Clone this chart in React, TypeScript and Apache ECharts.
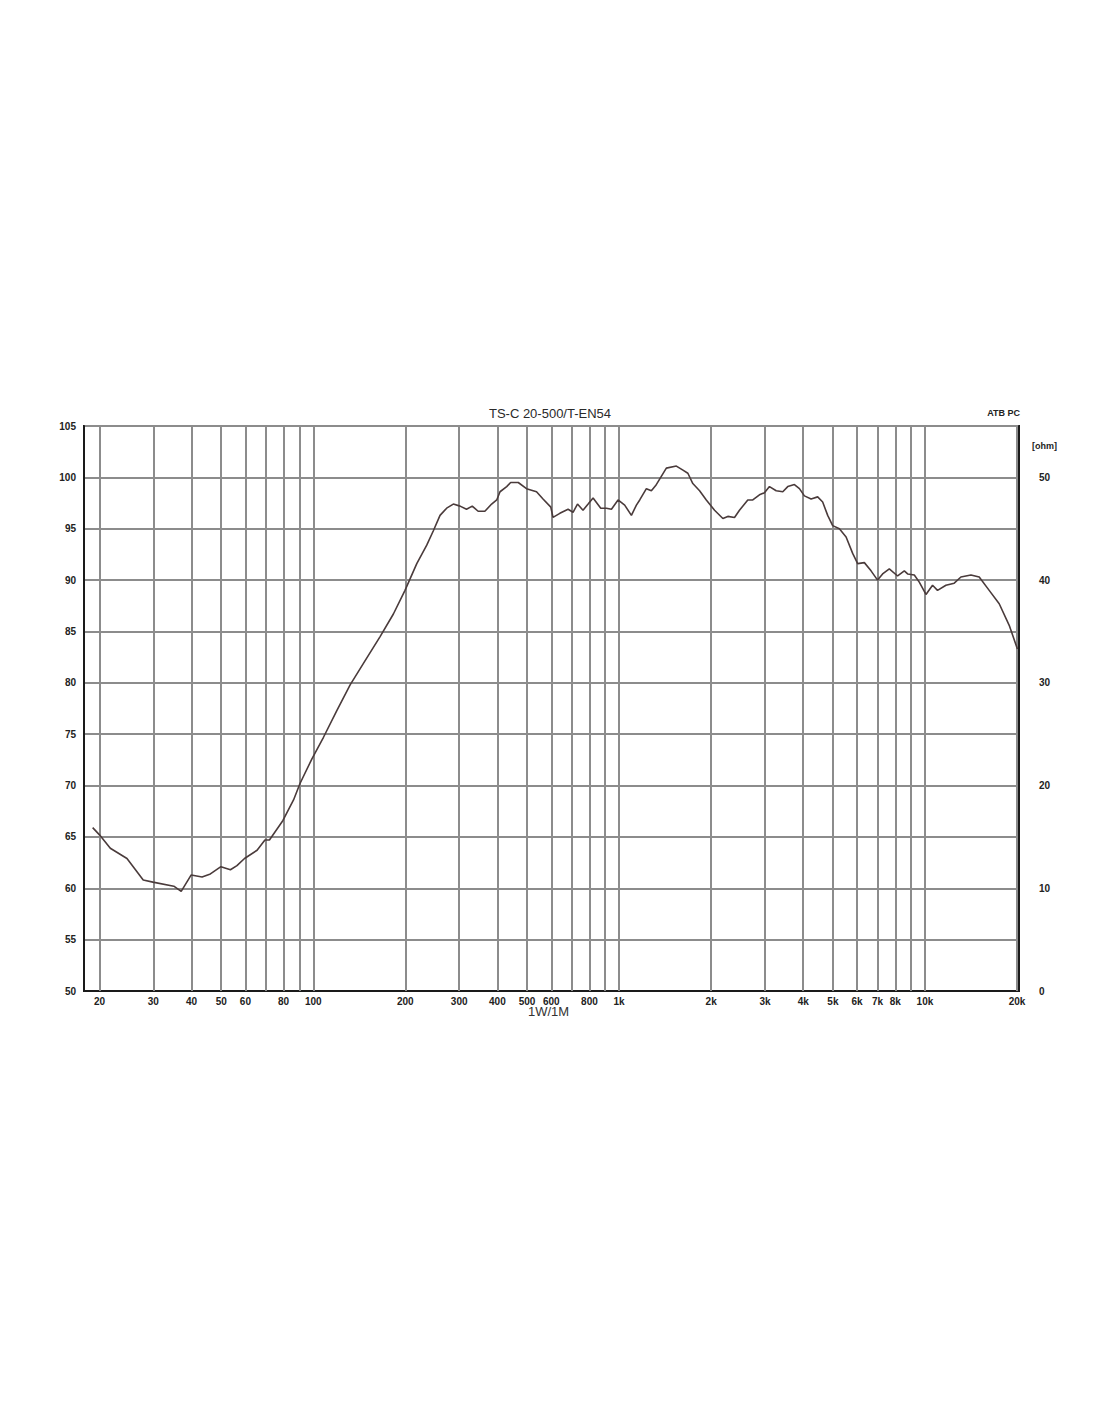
import React, { useEffect, useRef } from "react";
import * as echarts from "echarts";

const chartTitle = "TS-C 20-500/T-EN54";
const cornerNote = "ATB PC";
const xName = "1W/1M";
const ohmName = "[ohm]";

// Measured frequency response (Hz, dB SPL)
const freq = [
  19.0, 20.0, 21.7, 24.6, 27.8, 29.9, 35.0, 37.0, 39.9, 43.3, 46.1, 49.9, 53.6, 56.3, 59.6,
  65.5, 69.5, 71.9, 79.6, 86.2, 90.5, 99.0, 108, 119.4, 132, 145.9, 165.4, 182.8, 199.5,
  218, 235, 247, 259.7, 273, 287, 302, 317, 331, 346, 364, 383, 398, 408, 429, 442, 468,
  498, 537, 564, 598, 608, 640, 681, 707, 731, 762, 792, 822, 871, 909, 944, 992, 1043,
  1097, 1139, 1168, 1228, 1275, 1317, 1374, 1427, 1539, 1617, 1678, 1742, 1833, 1928,
  2052, 2184, 2267, 2384, 2475, 2635, 2736, 2877, 2987, 3102, 3263, 3429, 3560, 3743,
  3887, 4035, 4244, 4459, 4630, 4808, 4992, 5251, 5523, 5803, 6026, 6337, 6664, 7001,
  7270, 7646, 8140, 8561, 8776, 9229, 9581, 10077, 10589, 10993, 11711, 12466, 13108,
  14135, 15046, 16219, 17491, 18857, 20060,
];
const spl = [
  65.9, 65.2, 63.9, 62.9, 60.8, 60.6, 60.2, 59.7, 61.3, 61.1, 61.4, 62.1, 61.8, 62.2, 62.9,
  63.7, 64.7, 64.7, 66.6, 68.6, 70.2, 72.6, 74.7, 77.3, 79.8, 81.9, 84.5, 86.7, 89.0,
  91.6, 93.4, 94.8, 96.3, 97.0, 97.4, 97.2, 96.9, 97.2, 96.7, 96.7, 97.4, 97.8, 98.6, 99.1, 99.5, 99.5,
  98.9, 98.6, 97.9, 97.1, 96.1, 96.5, 96.9, 96.6, 97.4, 96.8, 97.4, 98.0, 97.0, 97.0, 96.9, 97.8, 97.3,
  96.3, 97.3, 97.8, 98.9, 98.7, 99.2, 100.1, 100.9, 101.1, 100.7, 100.4, 99.4, 98.7, 97.8,
  96.8, 96.0, 96.2, 96.1, 96.8, 97.8, 97.8, 98.3, 98.5, 99.1, 98.7, 98.6, 99.1, 99.3,
  98.9, 98.2, 97.9, 98.1, 97.6, 96.3, 95.3, 95.0, 94.2, 92.6, 91.6, 91.7, 90.9, 90.0,
  90.6, 91.1, 90.4, 90.9, 90.6, 90.5, 89.8, 88.6, 89.5, 89.0, 89.5, 89.7, 90.3,
  90.5, 90.3, 89.0, 87.7, 85.6, 83.3,
];

// Vertical grid lines (Hz) and which of them carry a label
const gridFreqs = [
  20, 30, 40, 50, 60, 70, 80, 90, 100, 200, 300, 400, 500, 600, 700, 800, 900,
  1000, 2000, 3000, 4000, 5000, 6000, 7000, 8000, 9000, 10000, 20000,
];
const labelFreqs = [20, 30, 40, 50, 60, 80, 100, 200, 300, 400, 500, 600, 800, 1000, 2000, 3000, 4000, 5000, 6000, 7000, 8000, 10000, 20000];
const labelTexts = ["20", "30", "40", "50", "60", "80", "100", "200", "300", "400", "500", "600", "800", "1k", "2k", "3k", "4k", "5k", "6k", "7k", "8k", "10k", "20k"];

const FONT = "'Liberation Sans', Arial, sans-serif";

export default function App() {
  const ref = useRef<HTMLDivElement>(null);
  useEffect(() => {
    if (!ref.current) return;
    const chart = echarts.init(ref.current, null, { renderer: "svg" });
    const gridMarks = gridFreqs.map((f) => {
      const i = labelFreqs.indexOf(f);
      return {
        xAxis: f,
        label: { formatter: i >= 0 ? labelTexts[i] : "" },
      };
    });
    chart.setOption({
      animation: false,
      backgroundColor: "#ffffff",
      title: {
        text: chartTitle,
        left: "center",
        top: 402,
        textStyle: { fontFamily: FONT, fontSize: 13, fontWeight: "normal", color: "#2a2a2a" },
      },
      graphic: [
        {
          type: "text",
          right: 80,
          top: 408,
          style: { text: cornerNote, font: `bold 9px ${FONT}`, fill: "#222" },
        },
        {
          type: "text",
          left: 1032,
          top: 441,
          style: { text: ohmName, font: `bold 9px ${FONT}`, fill: "#222" },
        },
        {
          type: "text",
          left: 528,
          top: 1005,
          style: { text: xName, font: `13px ${FONT}`, fill: "#333" },
        },
      ],
      grid: {
        left: 84,
        right: 81,
        top: 426,
        bottom: 431,
        show: true,
        borderColor: "#1a1a1a",
        borderWidth: 2,
        backgroundColor: "transparent",
      },
      xAxis: {
        type: "log",
        logBase: 10,
        min: 17.8,
        max: 20300,
        axisLine: { show: true, lineStyle: { color: "#1a1a1a", width: 2 } },
        axisTick: { show: false },
        axisLabel: { show: false },
        splitLine: { show: false },
        minorSplitLine: { show: false },
      },
      yAxis: [
        {
          type: "value",
          min: 50,
          max: 105,
          interval: 5,
          position: "left",
          axisLine: { show: true, lineStyle: { color: "#1a1a1a", width: 2 } },
          axisTick: { show: false },
          axisLabel: { margin: 8, fontFamily: FONT, fontSize: 10, fontWeight: "bold", color: "#222" },
          splitLine: { show: true, lineStyle: { color: "#8c8c8c", width: 2 } },
        },
        {
          type: "value",
          min: 0,
          max: 55,
          interval: 10,
          position: "right",
          axisLine: { show: true, lineStyle: { color: "#1a1a1a", width: 2 } },
          axisTick: { show: false },
          splitLine: { show: false },
          axisLabel: {
            margin: 20,
            fontFamily: FONT,
            fontSize: 10,
            fontWeight: "bold",
            color: "#222",
            formatter: (v: number) => (v % 10 === 0 ? String(v) : ""),
          },
        },
      ],
      series: [
        {
          type: "line",
          yAxisIndex: 0,
          data: freq.map((f, i) => [f, spl[i]]),
          showSymbol: false,
          symbol: "none",
          smooth: false,
          lineStyle: { color: "#4a3b3b", width: 1.6 },
          z: 5,
          markLine: {
            silent: true,
            symbol: ["none", "none"],
            animation: false,
            lineStyle: { color: "#8c8c8c", width: 2, type: "solid" },
            label: {
              show: true,
              position: "start",
              distance: 5,
              fontFamily: FONT,
              fontSize: 10,
              fontWeight: "bold",
              color: "#222",
            },
            emphasis: { disabled: true },
            z: 1,
            data: gridMarks,
          },
        },
      ],
    });
    return () => chart.dispose();
  }, []);
  return (
    <div
      ref={ref}
      style={{ position: "absolute", left: 0, top: 0, width: 1100, height: 1422, background: "#fff" }}
    />
  );
}
